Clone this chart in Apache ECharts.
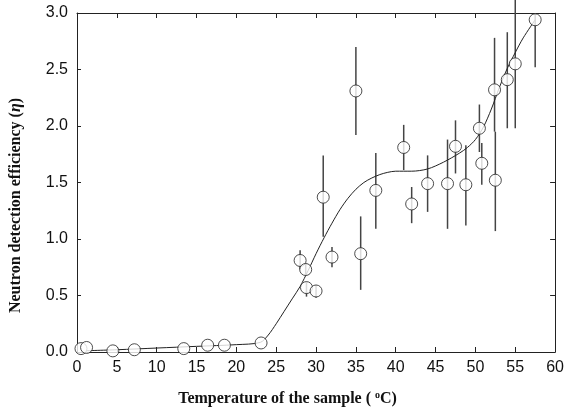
<!DOCTYPE html>
<html><head><meta charset="utf-8">
<script src="https://cdn.jsdelivr.net/npm/echarts@6/dist/echarts.min.js"></script>
<style>html,body{margin:0;padding:0;background:#fff}#c{width:567px;height:416px}</style>
</head><body><div id="c"></div>
<script>
const xTicks = [0,5,10,15,20,25,30,35,40,45,50,55,60];
const yTicks = [0.0,0.5,1.0,1.5,2.0,2.5,3.0];
const temps = [0.5,1.2,4.5,7.2,13.4,16.4,18.5,23.1,28.0,28.7,28.8,30.0,30.9,32.0,35.0,35.6,37.5,41.0,42.0,44.0,46.5,47.5,48.8,50.5,50.8,52.4,52.5,54.0,55.0,57.5];
const eff   = [0.03,0.04,0.01,0.02,0.03,0.06,0.06,0.08,0.81,0.73,0.57,0.54,1.37,0.84,2.31,0.87,1.43,1.81,1.31,1.49,1.49,1.82,1.48,1.98,1.67,2.32,1.52,2.41,2.55,2.94];
const errLow  = [0.03,0.04,0.01,0.02,0.03,0.06,0.06,0.08,0.73,0.68,0.49,0.48,1.02,0.75,1.92,0.55,1.09,1.61,1.14,1.24,1.09,1.58,1.12,1.77,1.48,1.95,1.07,1.98,1.98,2.52];
const errHigh = [0.03,0.04,0.01,0.02,0.03,0.06,0.06,0.08,0.90,0.78,0.62,0.59,1.74,0.93,2.70,1.20,1.76,2.01,1.46,1.74,1.88,2.05,1.83,2.19,1.85,2.78,1.95,2.83,3.12,3.00];
const fitX = [0.5,5,10,15,20,23,24,25,26,27,28,29,30,31,32,33,34,35,36,37,38,39,40,42,44,46,48,49,50,51,52,53,54,55,56,57.5];
const fitY = [0.01,0.02,0.035,0.05,0.065,0.085,0.15,0.25,0.36,0.47,0.58,0.72,0.87,1.01,1.14,1.26,1.36,1.44,1.50,1.54,1.57,1.59,1.60,1.60,1.62,1.68,1.76,1.81,1.88,1.99,2.15,2.34,2.51,2.65,2.78,2.94];

const pts = temps.map((t,i)=>[t,eff[i]]);
const errs = temps.map((t,i)=>[t,errLow[i],errHigh[i]]);
const fit = fitX.map((t,i)=>[t,fitY[i]]);

const tickFont = {fontFamily:'Liberation Sans, Arial, sans-serif', fontSize:16, color:'#111'};
const nameFont = {fontFamily:'Liberation Serif, Times New Roman, serif', fontSize:16, fontWeight:'bold', color:'#111'};
const axisLine = {show:true, onZero:false, lineStyle:{color:'#222', width:1}};

const chart = echarts.init(document.getElementById('c'));
chart.setOption({
  animation:false,
  backgroundColor:'#fff',
  grid:{left:77, right:10, top:13, bottom:64},
  xAxis:[
    {type:'value', min:0, max:60, interval:5, position:'bottom',
     axisLine:axisLine, axisTick:{inside:true, length:5, lineStyle:{color:'#222'}},
     axisLabel:Object.assign({margin:8, formatter:v=>String(v)}, tickFont),
     splitLine:{show:false},
     name:'Temperature of the sample ( {sup|o}C)', nameLocation:'middle', nameGap:38,
     nameTextStyle:Object.assign({padding:[0,57,0,0], rich:{sup:{fontFamily:'Liberation Serif, serif', fontSize:10, fontWeight:'bold', verticalAlign:'top', padding:[0,0,7,0]}}}, nameFont)},
    {type:'value', min:0, max:60, interval:5, position:'top',
     axisLine:axisLine, axisTick:{inside:true, length:5, lineStyle:{color:'#222'}},
     axisLabel:{show:false}, splitLine:{show:false}}
  ],
  yAxis:[
    {type:'value', min:0, max:3, interval:0.5, position:'left',
     axisLine:axisLine, axisTick:{inside:true, length:4, lineStyle:{color:'#222'}},
     axisLabel:Object.assign({margin:9, formatter:v=>v.toFixed(1)}, tickFont),
     splitLine:{show:false},
     name:'Neutron detection efficiency ({it|η})', nameLocation:'middle', nameGap:53, nameRotate:90,
     nameTextStyle:Object.assign({padding:[0,46,0,0], rich:{it:{fontFamily:'Liberation Serif, serif', fontSize:16, fontStyle:'italic', color:'#111'}}}, nameFont)},
    {type:'value', min:0, max:3, interval:0.5, position:'right',
     axisLine:axisLine, axisTick:{inside:true, length:5, lineStyle:{color:'#222'}},
     axisLabel:{show:false}, splitLine:{show:false}}
  ],
  series:[
    {type:'custom', data:errs, z:1, clip:false,
     renderItem:function(params, api){
       const x = api.value(0);
       const lo = api.coord([x, api.value(1)]);
       const hi = api.coord([x, api.value(2)]);
       return {type:'line', shape:{x1:lo[0], y1:lo[1], x2:hi[0], y2:hi[1]}, style:{stroke:'#444', lineWidth:1.5}};
     }},
    {type:'line', data:fit, smooth:0.3, showSymbol:false, symbol:'none', z:2,
     lineStyle:{color:'#222', width:1}},
    {type:'scatter', data:pts, symbol:'circle', symbolSize:12, z:3,
     itemStyle:{color:'#fff', borderColor:'#222', borderWidth:1}}
  ]
});
</script></body></html>
